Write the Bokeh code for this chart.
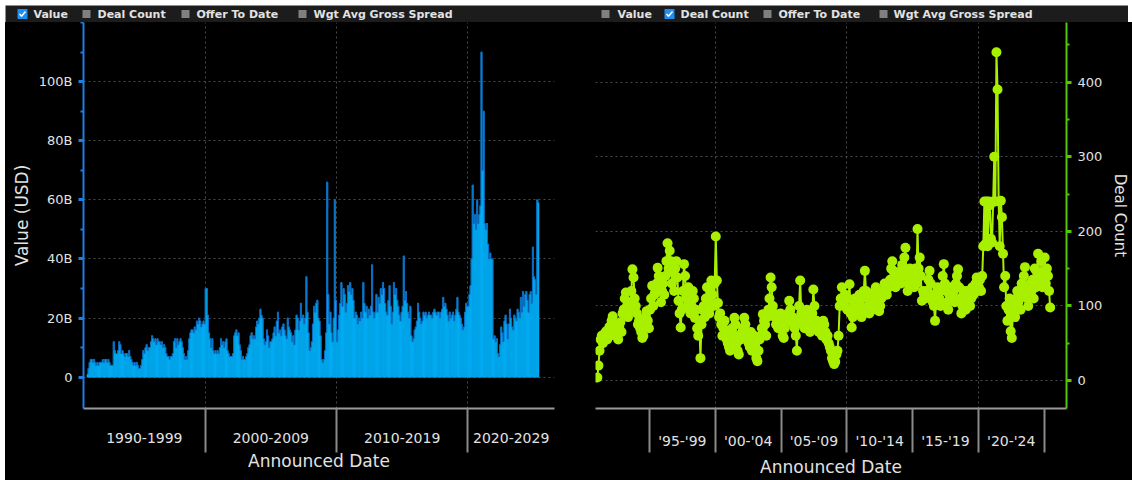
from bokeh.plotting import figure
from bokeh.layouts import column, row
from bokeh.models import Range1d, FixedTicker, ColumnDataSource, Spacer
from bokeh.embed import file_html
from bokeh.resources import INLINE
from bokeh.core.properties import value

# ---------------- data (monthly, starting Jan 1991) ----------------
start_year = 1991

value_bn = [
    1, 3, 5, 6, 6, 5, 6, 5, 4, 5, 4, 5,            # 1991
    5, 5, 6, 5, 6, 6, 5, 6, 5, 4, 4, 4,            # 1992
    12, 9, 8, 8, 9, 12, 11, 8, 9, 8, 7, 8,         # 1993
    8, 7, 9, 7, 6, 5, 4, 5, 4, 5, 4, 3,            # 1994
    3, 4, 6, 9, 8, 10, 11, 9, 10, 10, 12, 14,      # 1995
    13, 12, 13, 11, 13, 12, 12, 11, 12, 10, 11, 10,  # 1996
    8, 7, 7, 6, 7, 7, 8, 12, 13, 10, 13, 11,       # 1997
    12, 13, 12, 10, 8, 6, 7, 6, 9, 13, 15, 16,     # 1998
    16, 15, 17, 16, 19, 18, 20, 19, 17, 18, 19, 18,  # 1999
    30, 30, 21, 15, 13, 10, 13, 9, 8, 9, 8, 9,     # 2000
    8, 10, 13, 11, 12, 10, 12, 13, 9, 8, 7, 7,     # 2001
    7, 8, 14, 15, 16, 14, 15, 11, 9, 6, 7, 6,      # 2002
    6, 7, 8, 10, 11, 14, 15, 13, 14, 13, 17, 19,   # 2003
    18, 20, 23, 21, 20, 13, 11, 12, 16, 14, 10, 12,  # 2004
    12, 13, 15, 17, 14, 19, 22, 15, 16, 14, 17, 18,  # 2005
    16, 14, 13, 20, 17, 16, 15, 12, 14, 11, 16, 21,  # 2006
    20, 16, 19, 25, 20, 21, 18, 20, 34, 22, 15, 9,   # 2007
    10, 12, 18, 24, 22, 25, 26, 20, 19, 14, 6, 5,    # 2008
    6, 9, 15, 66, 28, 18, 22, 15, 12, 20, 60, 26,    # 2009
    12, 16, 21, 25, 32, 24, 30, 28, 22, 25, 31, 29,  # 2010
    32, 28, 30, 26, 20, 22, 21, 18, 20, 19, 22, 20,  # 2011
    32, 25, 22, 24, 20, 23, 21, 24, 38, 22, 20, 22,  # 2012
    28, 22, 27, 25, 30, 28, 32, 30, 25, 22, 21, 26,  # 2013
    31, 24, 18, 22, 32, 28, 30, 26, 24, 21, 19, 22,  # 2014
    24, 41, 26, 29, 25, 22, 20, 24, 14, 12, 13, 16,  # 2015
    17, 19, 25, 22, 20, 18, 19, 22, 21, 22, 20, 21,  # 2016
    22, 21, 21, 20, 22, 23, 22, 21, 22, 22, 20, 22,  # 2017
    23, 27, 24, 25, 23, 21, 19, 22, 20, 21, 22, 19,  # 2018
    21, 23, 27, 22, 21, 20, 18, 16, 17, 22, 25, 24,  # 2019
    24, 28, 31, 40, 65, 52, 55, 50, 60, 52, 55, 58,  # 2020
    110, 70, 90, 52, 50, 52, 45, 40, 42, 40, 40, 13,  # 2021
    14, 12, 13, 8, 7, 11, 17, 15, 12, 19, 21, 18,    # 2022
    13, 18, 23, 20, 17, 16, 21, 20, 19, 23, 22, 20,  # 2023
    27, 22, 29, 24, 28, 29, 26, 22, 28, 29, 25, 44,  # 2024
    34, 33, 28, 60, 59,                              # 2025
]

deal_count = [
    4, 20, 40, 55, 60, 50, 62, 58, 66, 55, 60, 72,            # 1991
    65, 80, 86, 70, 60, 75, 68, 55, 72, 78, 65, 90,           # 1992
    95, 110, 118, 100, 85, 105, 95, 120, 149, 138, 110, 100,  # 1993
    90, 75, 80, 70, 65, 57, 60, 72, 85, 93, 80, 70,           # 1994
    95, 110, 127, 100, 115, 120, 130, 151, 140, 125, 105, 120,  # 1995
    130, 115, 140, 160, 184, 150, 174, 160, 130, 145, 120, 150,  # 1996
    160, 138, 107, 90, 71, 95, 120, 156, 140, 110, 100, 125,  # 1997
    105, 90, 100, 120, 110, 84, 95, 70, 60, 80, 30, 75,       # 1998
    95, 100, 85, 110, 125, 105, 90, 120, 134, 115, 100, 130,  # 1999
    193, 134, 104, 85, 90, 75, 60, 70, 80, 65, 55, 50,        # 2000
    45, 40, 60, 70, 55, 84, 75, 50, 40, 35, 60, 55,           # 2001
    65, 70, 84, 75, 60, 55, 50, 45, 65, 40, 55, 60,           # 2002
    45, 30, 26, 40, 55, 60, 70, 89, 80, 75, 60, 85,           # 2003
    95, 110, 138, 125, 100, 90, 85, 75, 80, 70, 85, 90,       # 2004
    75, 60, 57, 70, 80, 85, 90, 107, 95, 80, 85, 75,          # 2005
    70, 60, 40, 80, 100, 134, 90, 75, 85, 70, 80, 95,         # 2006
    70, 80, 65, 85, 90, 122, 100, 75, 80, 70, 65, 75,         # 2007
    70, 60, 80, 75, 65, 55, 60, 50, 45, 40, 30, 26,           # 2008
    22, 25, 35, 40, 60, 100, 110, 125, 105, 100, 115, 110,    # 2009
    95, 110, 129, 90, 71, 85, 100, 110, 95, 90, 105, 115,     # 2010
    100, 85, 95, 120, 147, 120, 110, 100, 90, 115, 105, 95,   # 2011
    110, 120, 125, 115, 105, 93, 100, 110, 120, 115, 130, 125,  # 2012
    115, 130, 125, 135, 150, 160, 147, 130, 125, 140, 135, 145,  # 2013
    140, 130, 155, 150, 165, 178, 140, 120, 130, 150, 140, 135,  # 2014
    140, 125, 150, 130, 203, 150, 165, 140, 107, 120, 115, 110,  # 2015
    120, 115, 135, 147, 130, 115, 105, 100, 80, 110, 125, 118,   # 2016
    110, 100, 125, 140, 156, 130, 120, 105, 95, 115, 125, 108,   # 2017
    115, 120, 105, 130, 140, 149, 125, 110, 90, 100, 115, 120,   # 2018
    95, 105, 120, 115, 100, 110, 125, 115, 120, 130, 138, 120,   # 2019
    125, 135, 120, 140, 180, 240, 183, 240, 180, 240, 235, 190,  # 2020
    185, 240, 300, 240, 440, 390, 240, 180, 241, 219, 170, 125,  # 2021
    140, 100, 80, 95, 110, 66, 57, 90, 100, 85, 110, 120,        # 2022
    105, 120, 95, 130, 115, 140, 152, 125, 110, 100, 115, 130,   # 2023
    120, 135, 110, 150, 125, 145, 170, 140, 130, 160, 125, 145,  # 2024
    165, 130, 150, 140, 120, 98,                                 # 2025
]

# axis categories / labels
decade_labels = ["1990-1999", "2000-2009", "2010-2019", "2020-2029"]
decade_label_pos = [1995.37, 2005, 2015, 2023.3]
decade_bounds = [1990, 2000, 2010, 2020, 2030]
half_labels = ["'95-'99", "'00-'04", "'05-'09", "'10-'14", "'15-'19", "'20-'24"]
half_label_pos = [1997.5, 2002.5, 2007.5, 2012.5, 2017.5, 2022.5]
half_bounds = [1995, 2000, 2005, 2010, 2015, 2020, 2025]
value_ticks = [0, 20, 40, 60, 80, 100]
value_tick_labels = ["0", "20B", "40B", "60B", "80B", "100B"]
value_minor = [10, 30, 50, 70, 90, 110, 120]
count_ticks = [0, 100, 200, 300, 400]
count_minor = [50, 150, 250, 350, 450]
legend_labels = ["Value", "Deal Count", "Offer To Date", "Wgt Avg Gross Spread"]

# ---------------- styling ----------------
FONT = "DejaVu Sans"
TXT = "#e2e2e2"
BLUE = "#02acf4"
BLUE_DK = "#0c66c0"
BLUE_AX = "#1f7fe0"
LIME = "#a8f000"
GREEN_AX = "#52c800"
GRID = "#4a4a4a"
STRIP = "#1c1c1c"
AXGRAY = "#9a9a9a"

val_src = ColumnDataSource(dict(
    x=[start_year + (i + 0.5) / 12 for i in range(len(value_bn))], v=value_bn))
cnt_src = ColumnDataSource(dict(
    x=[start_year + (i + 0.5) / 12 for i in range(len(deal_count))], c=deal_count))

# ---------------- legend strip ----------------
strip = figure(width=1123, height=17, x_range=Range1d(0, 1123), y_range=Range1d(0, 17),
               x_axis_type=None, y_axis_type=None, toolbar_location=None,
               output_backend="svg", min_border=0, background_fill_color=STRIP,
               border_fill_color=STRIP, outline_line_color=None)

CY = 8.5
groups = [([17, 81, 180, 297], [28, 92, 191, 308], 0),
          ([600, 664, 762, 878], [612, 675, 773, 888], 1)]
for box_x, text_x, checked in groups:
    gx = [bx for k, bx in enumerate(box_x) if k != checked]
    strip.scatter(x=gx, y=[CY] * len(gx), marker="square", size=8,
                  fill_color="#808080", line_color=None)
    cx = box_x[checked]
    strip.scatter(x=[cx], y=[CY], marker="square", size=10,
                  fill_color="#1e8ff0", line_color=None)
    strip.line(x=[cx - 3, cx - 1, cx + 3], y=[CY, CY - 2.2, CY + 2.5],
               line_color="white", line_width=1.5)
    strip.text(x=text_x, y=[CY] * 4, text=legend_labels, text_font=value(FONT),
               text_font_size="11px", text_font_style="bold", text_color=TXT,
               text_baseline="middle", text_align="left")


def style_common(p):
    for g in (p.xgrid[0], p.ygrid[0]):
        g.grid_line_color = GRID
        g.grid_line_dash = "2 3"
        g.grid_line_width = 1
    ax = p.xaxis[0]
    ax.axis_line_color = AXGRAY
    ax.axis_line_width = 2
    ax.major_tick_out = 3
    ax.major_tick_in = 0
    ax.major_tick_line_color = None
    ax.minor_tick_out = 44
    ax.minor_tick_in = 0
    ax.minor_tick_line_color = "#8a8a8a"
    ax.minor_tick_line_width = 2
    ax.major_label_text_font = FONT
    ax.major_label_text_font_size = "14px"
    ax.major_label_text_color = TXT
    ax.major_label_standoff = -20
    ax.axis_label = "Announced Date"
    ax.axis_label_text_font = FONT
    ax.axis_label_text_font_size = "17px"
    ax.axis_label_text_font_style = "normal"
    ax.axis_label_text_color = TXT
    ax.axis_label_standoff = 5


FIG_H = 458
BOTTOM = 72

# ---------------- left: Value ----------------
left = figure(width=569, height=FIG_H, x_range=Range1d(1990.735, 2026.6),
              y_range=Range1d(-10.6, 120.0), output_backend="svg",
              toolbar_location=None, background_fill_color="black",
              border_fill_color="black", outline_line_color=None,
              min_border_left=78, min_border_right=20, min_border_top=0,
              min_border_bottom=BOTTOM)
left.vbar(x="x", top="v", width=1 / 12, source=val_src, fill_color=BLUE,
          line_color=BLUE, line_width=0.6)
left.step(x="x", y="v", mode="center", source=val_src, line_color=BLUE_DK,
          line_width=0.9)
style_common(left)
lx = left.xaxis[0]
lx.ticker = FixedTicker(ticks=decade_label_pos, minor_ticks=decade_bounds)
lx.major_label_overrides = dict(zip(decade_label_pos, decade_labels))
left.xgrid[0].ticker = FixedTicker(ticks=[2000, 2010, 2020])
ly = left.yaxis[0]
ly.ticker = FixedTicker(ticks=value_ticks, minor_ticks=value_minor)
ly.major_label_overrides = dict(zip(value_ticks, value_tick_labels))
ly.axis_line_color = BLUE_AX
ly.axis_line_width = 2
ly.major_tick_line_color = BLUE_AX
ly.major_tick_line_width = 3
ly.major_tick_out = 5
ly.major_tick_in = 0
ly.minor_tick_line_color = BLUE_AX
ly.minor_tick_line_width = 2
ly.minor_tick_out = 3
ly.minor_tick_in = 0
ly.major_label_text_font = FONT
ly.major_label_text_font_size = "13px"
ly.major_label_text_color = TXT
ly.major_label_standoff = 6
ly.axis_label = "Value (USD)"
ly.axis_label_text_font = FONT
ly.axis_label_text_font_size = "17px"
ly.axis_label_text_font_style = "normal"
ly.axis_label_text_color = TXT
ly.axis_label_standoff = 4

# ---------------- right: Deal Count ----------------
right = figure(width=558, height=FIG_H, x_range=Range1d(1990.9, 2026.7),
               y_range=Range1d(-37.5, 479.9), y_axis_location="right",
               output_backend="svg", toolbar_location=None,
               background_fill_color="black", border_fill_color="black",
               outline_line_color=None, min_border_left=21, min_border_right=66,
               min_border_top=0, min_border_bottom=BOTTOM)
right.line(x="x", y="c", source=cnt_src, line_color=LIME, line_width=2)
right.scatter(x="x", y="c", source=cnt_src, size=10, fill_color=LIME,
              line_color=None)
style_common(right)
rx = right.xaxis[0]
rx.ticker = FixedTicker(ticks=half_label_pos, minor_ticks=half_bounds)
rx.major_label_overrides = dict(zip(half_label_pos, half_labels))
right.xgrid[0].ticker = FixedTicker(ticks=[2000, 2010, 2020])
ry = right.yaxis[0]
ry.ticker = FixedTicker(ticks=count_ticks, minor_ticks=count_minor)
ry.axis_line_color = GREEN_AX
ry.axis_line_width = 2
ry.major_tick_line_color = GREEN_AX
ry.major_tick_line_width = 3
ry.major_tick_out = 5
ry.major_tick_in = 0
ry.minor_tick_line_color = GREEN_AX
ry.minor_tick_line_width = 2
ry.minor_tick_out = 3
ry.minor_tick_in = 0
ry.major_label_text_font = FONT
ry.major_label_text_font_size = "13px"
ry.major_label_text_color = TXT
ry.major_label_standoff = 6
ry.axis_label = "Deal Count"
ry.axis_label_text_font = FONT
ry.axis_label_text_font_size = "15px"
ry.axis_label_text_font_style = "normal"
ry.axis_label_text_color = TXT
ry.axis_label_standoff = 6

panels = row(left, right, styles={"background-color": "black"})
content = column(strip, panels)
layout = column(Spacer(height=5), row(Spacer(width=5), content))
open("out.html", "w").write(file_html(layout, INLINE))
